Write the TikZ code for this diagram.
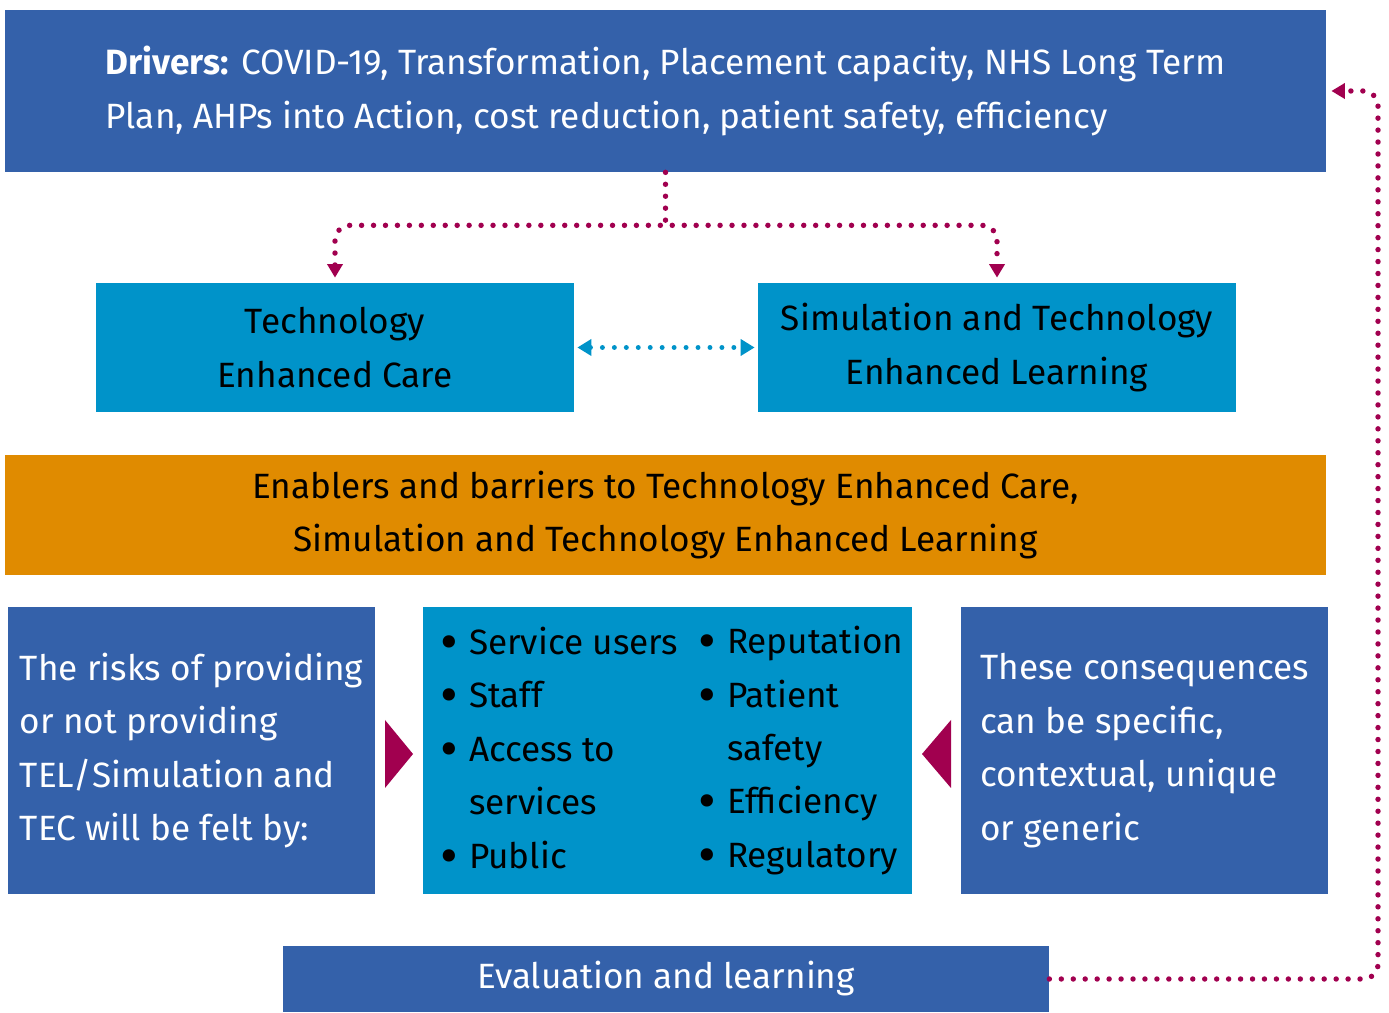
\documentclass[tikz,border=0pt]{standalone}
\usepackage{graphicx}
\usepackage{fontspec}
\setmainfont{Fira Sans}
\usetikzlibrary{arrows.meta,calc}

\definecolor{navyblue}{HTML}{3461AA}
\definecolor{skyblue}{HTML}{0093C9}
\definecolor{amber}{HTML}{E08B00}
\definecolor{plum}{HTML}{A1004F}

\newcommand{\itm}[1]{\makebox[0.58cm][l]{\raisebox{-0.17em}{\scalebox{1.55}{\textbullet}}}#1}
\newcommand{\nitm}[1]{\makebox[0.58cm][l]{}#1}

\begin{document}
\begin{tikzpicture}[line cap=round,line join=round,x=1.0cm,y=1.0cm,
  box/.style={inner sep=0pt,align=left,font=\fontsize{20}{30.4}\selectfont},
  darkbox/.style={box,fill=navyblue,text=white},
  lightbox/.style={box,fill=skyblue,text=black},
  magtip/.tip={Triangle[width=0.30cm,length=0.27cm]},
  cyantip/.tip={Triangle[width=0.32cm,length=0.28cm]},
  magdots/.style={draw=plum,line width=3.1pt,dash pattern=on 0pt off 6.8pt,-magtip,shorten >=0.1cm},
  cyandots/.style={draw=skyblue,line width=2.8pt,dash pattern=on 0pt off 6.8pt,cyantip-cyantip,shorten >=0.06cm,shorten <=0.06cm}]

\useasboundingbox (0,0) rectangle (27.78,20.24);

% boxes
\node[darkbox,minimum width=26.42cm,minimum height=3.24cm] (drivers) at (13.31,18.42)
  {\textbf{Drivers:} COVID-19, Transformation, Placement capacity, NHS Long Term\\
   Plan, AHPs into Action, cost reduction, patient safety, efficiency};
\node[lightbox,align=center,minimum width=9.56cm,minimum height=2.58cm] (tec) at (6.70,13.29)
  {Technology\\ Enhanced Care};
\node[lightbox,align=center,minimum width=9.56cm,minimum height=2.58cm] (stel) at (19.94,13.29)
  {Simulation and Technology\\ Enhanced Learning};
\node[box,fill=amber,align=center,minimum width=26.42cm,minimum height=2.40cm] (enablers) at (13.31,9.94)
  {Enablers and barriers to Technology Enhanced Care,\\ Simulation and Technology Enhanced Learning};
\node[darkbox,minimum width=7.34cm,minimum height=5.74cm] (risks) at (3.83,5.23)
  {The risks of providing\\ or not providing\\ TEL/Simulation and\\ TEC will be felt by:};
\node[lightbox,minimum width=9.78cm,minimum height=5.74cm] (felt) at (13.35,5.23) {};
\node[box,anchor=west] (feltleft) at ($(felt.west)+(0.34,0)$)
  {\itm{Service users}\\ \itm{Staff}\\ \itm{Access to}\\ \nitm{services}\\ \itm{Public}};
\node[box,anchor=west] (feltright) at ($(felt.west)+(5.50,0)$)
  {\itm{Reputation}\\ \itm{Patient}\\ \nitm{safety}\\ \itm{Efficiency}\\ \itm{Regulatory}};
\node[darkbox,minimum width=7.34cm,minimum height=5.74cm] (conseq) at (22.89,5.23)
  {These consequences\\ can be specific,\\ contextual, unique\\ or generic};
\node[darkbox,align=center,minimum width=15.32cm,minimum height=1.32cm] (evalbox) at (13.32,0.66)
  {Evaluation and learning};

% pointers
\fill[plum] (7.70,5.84) -- (8.26,5.16) -- (7.70,4.48) -- cycle;
\fill[plum] (19.02,5.84) -- (18.44,5.16) -- (19.02,4.48) -- cycle;

% connectors
\coordinate (fork) at ($(drivers.south)+(0,-1.06)$);
\draw[magdots,-,shorten >=0pt] (drivers.south) -- (fork);
\draw[magdots,magtip-magtip,rounded corners=0.3cm,shorten <=0.1cm] (tec.north) |- (fork) -| (stel.north);
\draw[cyandots] (tec.east) -- (stel.west);
\coordinate (loop) at (27.56,18.42);
\draw[magdots,rounded corners=0.3cm] (evalbox.east) -| (loop) -- (drivers.east);

\end{tikzpicture}
\end{document}
